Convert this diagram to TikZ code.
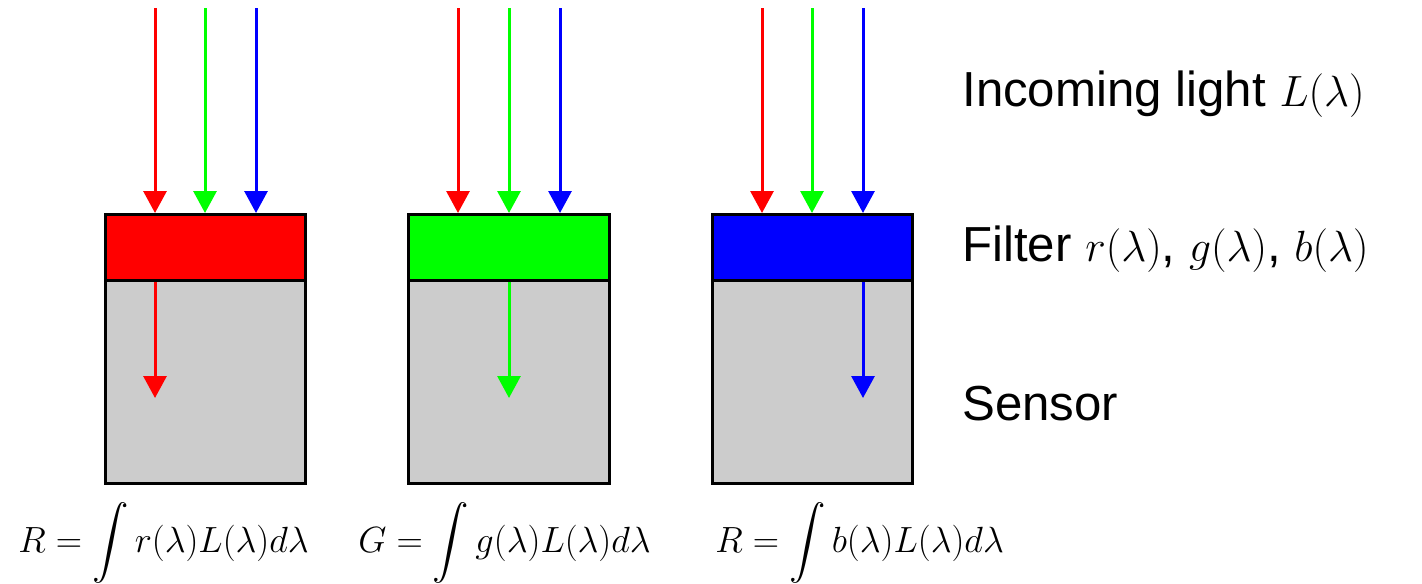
\documentclass[tikz,border=0pt]{standalone}
\usepackage[no-math]{fontspec}
\setmainfont{Liberation Sans}
\usepackage{amsmath}
\usetikzlibrary{arrows.meta}
\definecolor{rayred}{RGB}{255,0,0}
\definecolor{raygreen}{RGB}{0,255,0}
\definecolor{rayblue}{RGB}{0,0,255}
\definecolor{sensorgray}{RGB}{204,204,204}

\begin{document}
\begin{tikzpicture}[
    x=0.02cm, y=-0.02cm,
    filterbox/.style={draw, line width=0.06cm, inner sep=0, minimum width=4.02cm, minimum height=1.32cm},
    sensorbox/.style={draw, line width=0.06cm, inner sep=0, fill=sensorgray, minimum width=4.02cm, minimum height=4.06cm},
    ray/.style={-{Triangle[length=0.44cm, width=0.46cm]}, line width=0.06cm},
    label/.style={anchor=base west, inner sep=0, font=\fontsize{28}{34}\selectfont},
    formula/.style={anchor=base west, inner sep=0, font=\fontsize{20}{24}\selectfont}
  ]
  \useasboundingbox (0,0) rectangle (1422,583);

  % sensors
  \node[sensorbox] (s1) at (205.5,382) {};
  \node[sensorbox] (s2) at (509,382)   {};
  \node[sensorbox] (s3) at (812.5,382) {};

  % filters
  \node[filterbox, fill=rayred]   (f1) at (205.5,247.5) {};
  \node[filterbox, fill=raygreen] (f2) at (509,247.5)   {};
  \node[filterbox, fill=rayblue]  (f3) at (812.5,247.5) {};

  % incoming light
  \coordinate (r1) at (155,8);  \coordinate (g1) at (205,8);  \coordinate (b1) at (256,8);
  \coordinate (r2) at (458,8);  \coordinate (g2) at (509,8);  \coordinate (b2) at (560,8);
  \coordinate (r3) at (762,8);  \coordinate (g3) at (812,8);  \coordinate (b3) at (863,8);

  \draw[ray, rayred]   (r1) -- (r1 |- f1.north);
  \draw[ray, raygreen] (g1) -- (g1 |- f1.north);
  \draw[ray, rayblue]  (b1) -- (b1 |- f1.north);
  \draw[ray, rayred]   (r2) -- (r2 |- f2.north);
  \draw[ray, raygreen] (g2) -- (g2 |- f2.north);
  \draw[ray, rayblue]  (b2) -- (b2 |- f2.north);
  \draw[ray, rayred]   (r3) -- (r3 |- f3.north);
  \draw[ray, raygreen] (g3) -- (g3 |- f3.north);
  \draw[ray, rayblue]  (b3) -- (b3 |- f3.north);

  % passed light
  \coordinate (pass1) at (155,398);
  \coordinate (pass2) at (509,398);
  \coordinate (pass3) at (863,398);
  \draw[ray, rayred]   (pass1 |- f1.south) -- (pass1);
  \draw[ray, raygreen] (pass2 |- f2.south) -- (pass2);
  \draw[ray, rayblue]  (pass3 |- f3.south) -- (pass3);

  % labels
  \node[label] (light)  at (962,106) {Incoming light $L(\lambda)$};
  \node[label] (filter) at (962,261) {Filter $r(\lambda)$, $g(\lambda)$, $b(\lambda)$};
  \node[label] (sensor) at (962,420) {Sensor};

  \node[formula] (valR) at (18,552)  {$\displaystyle R=\int r(\lambda)L(\lambda)d\lambda$};
  \node[formula] (valG) at (358,552) {$\displaystyle G=\int g(\lambda)L(\lambda)d\lambda$};
  \node[formula] (valB) at (715,552) {$\displaystyle R=\int b(\lambda)L(\lambda)d\lambda$};
\end{tikzpicture}
\end{document}
